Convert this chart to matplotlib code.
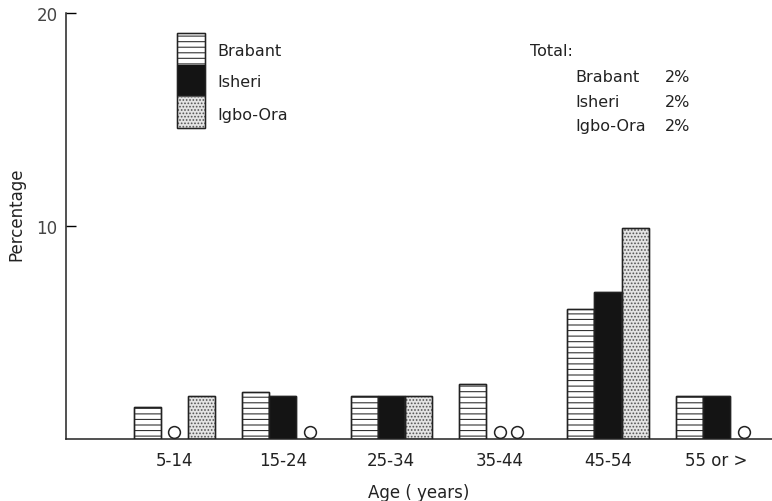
"""
Age distribution (percentage) for Brabant, Isheri and Igbo-Ora.
Zero values are marked with an open circle on the baseline.
"""

import matplotlib.pyplot as plt
import numpy as np
from matplotlib.patches import Rectangle

plt.rcParams["font.family"] = ["DejaVu Sans"]
plt.rcParams["hatch.linewidth"] = 0.8

age_groups = ["5-14", "15-24", "25-34", "35-44", "45-54", "55 or >"]
sites = ["Brabant", "Isheri", "Igbo-Ora"]
brabant = [1.5, 2.2, 2.0, 2.6, 6.1, 2.0]
isheri = [0.0, 2.0, 2.0, 0.0, 6.9, 2.0]
igbo_ora = [2.0, 0.0, 2.0, 0.0, 9.9, 0.0]
totals = ["2%", "2%", "2%"]

styles = {
    "Brabant": dict(facecolor="white", hatch="---", edgecolor="#333333"),
    "Isheri": dict(facecolor="#141414", hatch=None, edgecolor="#141414"),
    "Igbo-Ora": dict(facecolor="#e4e4e4", hatch=".....", edgecolor="#555555"),
}
INK = "#222222"

fig = plt.figure(figsize=(7.72, 5.02), dpi=100)
ax = fig.add_axes([66 / 772, 62 / 502, 706 / 772, 426 / 502])

centers = 4 + 4 * np.arange(len(age_groups))
series = [brabant, isheri, igbo_ora]

for j, (name, vals) in enumerate(zip(sites, series)):
    st = styles[name]
    for i, v in enumerate(vals):
        x = centers[i] + (j - 1)
        if v > 0:
            ax.bar(x, v, width=1.0, facecolor=st["facecolor"], hatch=st["hatch"],
                   edgecolor=st["edgecolor"], linewidth=1.0, zorder=2)
            ax.bar(x, v, width=1.0, facecolor="none", edgecolor=INK,
                   linewidth=1.0, zorder=3)
        else:
            # pull the circle in when the slot before it is also empty
            shift = -0.35 if j > 0 and series[j - 1][i] == 0 else 0.0
            ax.plot(x + shift, 0.32, marker="o", markersize=8.5, mfc="white",
                    mec=INK, mew=1.1, zorder=3)

ax.set_xlim(0, 26.05)
ax.set_ylim(0, 20)
ax.set_xticks(centers)
ax.set_xticklabels(age_groups, fontsize=12, color=INK)
ax.tick_params(axis="x", length=0, pad=9)
ax.set_yticks([10, 20])
ax.set_yticklabels(["10", "20"], fontsize=12, color="#444444")
ax.tick_params(axis="y", direction="in", length=7, width=1.0, pad=6)
for s in ("top", "right"):
    ax.spines[s].set_visible(False)
for s in ("left", "bottom"):
    ax.spines[s].set_linewidth(1.1)
    ax.spines[s].set_color(INK)

ax.set_xlabel("Age ( years)", fontsize=12, color=INK, labelpad=10)
ax.set_ylabel("Percentage", fontsize=12, color=INK)
ax.yaxis.set_label_coords(-0.058, 0.53)

# stacked legend key, drawn by hand so the patches touch
key_x, key_w, key_top, key_h = 0.157, 0.0397, 0.953, 0.074
label_y = [0.911, 0.840, 0.761]
for k, name in enumerate(sites):
    st = styles[name]
    y0 = key_top - (k + 1) * key_h
    ax.add_patch(Rectangle((key_x, y0), key_w, key_h, transform=ax.transAxes,
                           facecolor=st["facecolor"], hatch=st["hatch"],
                           edgecolor=st["edgecolor"], linewidth=0.9, zorder=2))
    ax.text(0.215, label_y[k], name, transform=ax.transAxes, fontsize=11.5,
            color=INK, va="center")
ax.add_patch(Rectangle((key_x, key_top - 3 * key_h), key_w, 3 * key_h,
                       transform=ax.transAxes, facecolor="none", edgecolor=INK,
                       linewidth=1.0, zorder=3))

ax.text(0.657, 0.911, "Total:", transform=ax.transAxes, fontsize=11.5,
        color=INK, va="center")
for k, (name, t) in enumerate(zip(sites, totals)):
    y = 0.850 - k * 0.0575
    ax.text(0.721, y, name, transform=ax.transAxes, fontsize=11.5,
            color=INK, va="center")
    ax.text(0.848, y, t, transform=ax.transAxes, fontsize=11.5,
            color=INK, va="center")

fig.savefig("out.png", dpi=100)
